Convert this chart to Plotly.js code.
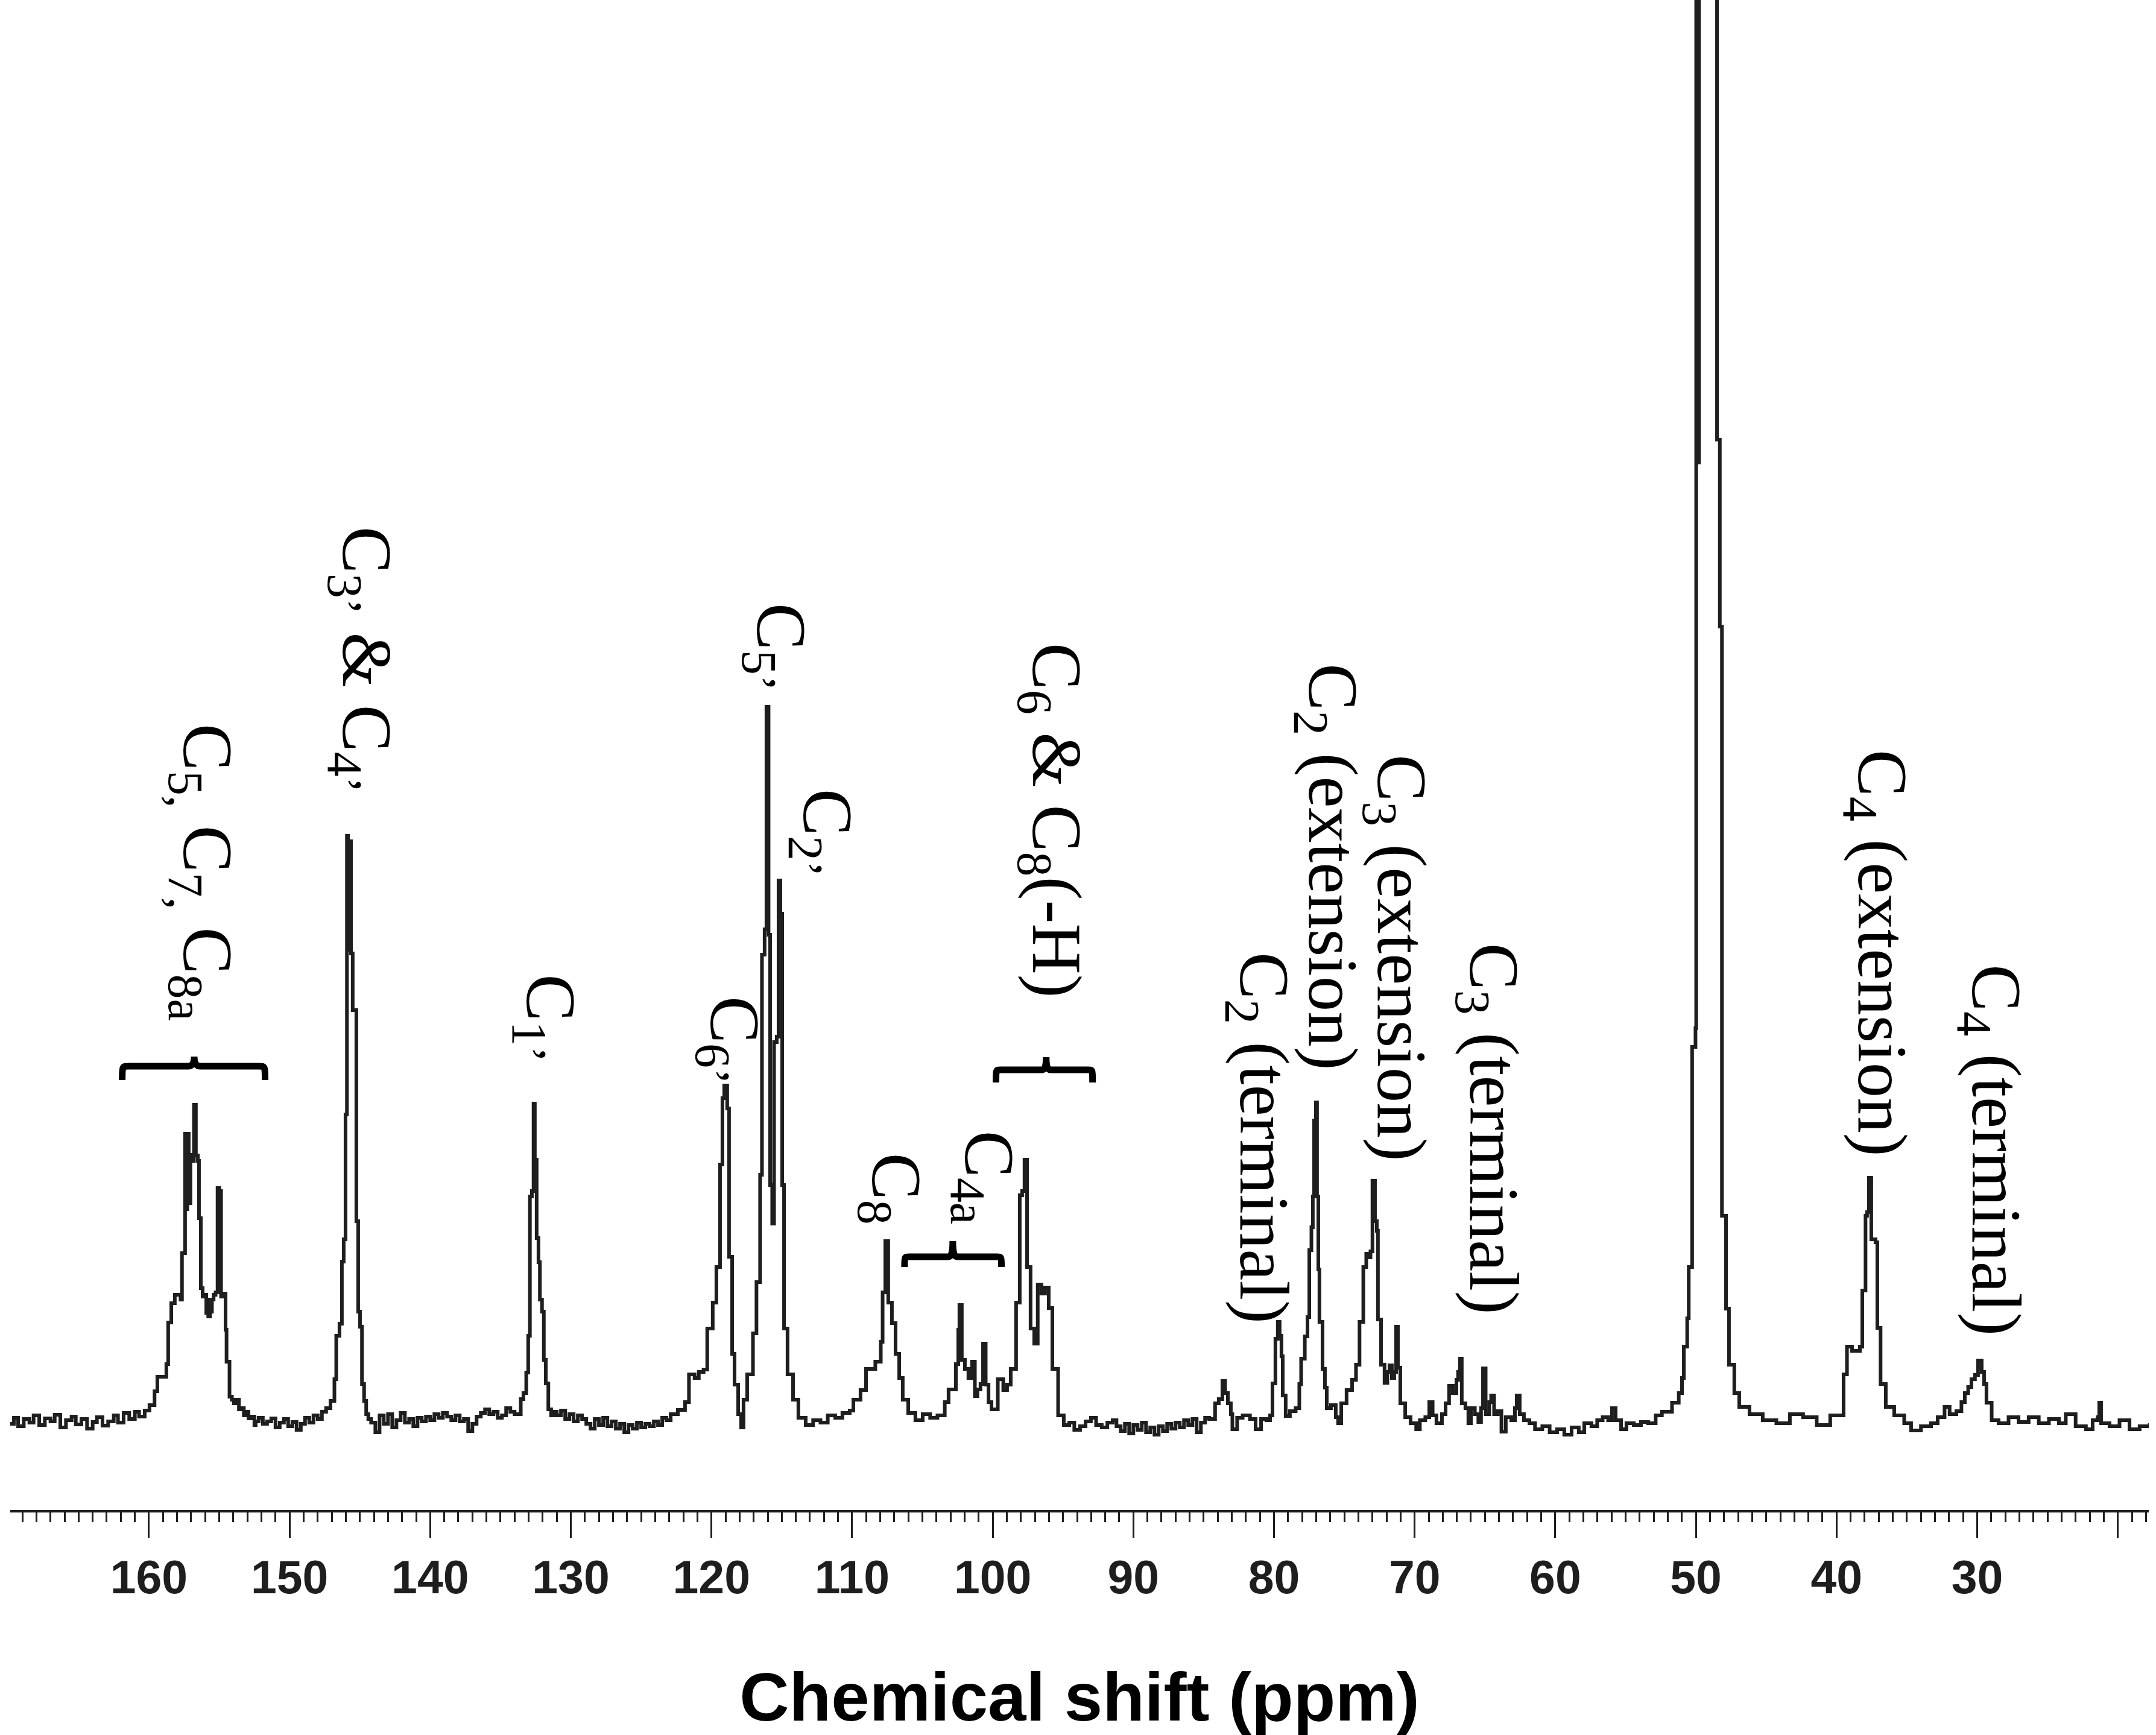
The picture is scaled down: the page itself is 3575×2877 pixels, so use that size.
<!DOCTYPE html>
<html>
<head>
<meta charset="utf-8">
<script src="https://cdn.plot.ly/plotly-3.0.1.min.js"></script>
<style>
html,body{margin:0;padding:0;background:#fff;}
#chart{width:3575px;height:2877px;}
</style>
</head>
<body>
<div id="chart"></div>
<script>
// 13C NMR spectrum: [chemical shift (ppm), intensity (arb.)]
const region_170_147 = [
[170.0,-6],[169.6,4],[169.3,-10],[168.9,2],[168.5,-4],[168.2,8],[167.8,-8],[167.4,3],[167.0,-2],[166.7,9],
[166.3,-12],[165.9,0],[165.5,6],[165.2,-7],[164.8,2],[164.4,-14],[164.0,-3],[163.7,5],[163.3,-9],[162.9,-2],
[162.5,8],[162.2,-4],[161.8,12],[161.4,2],[161.0,14],[160.7,6],[160.3,16],
[159.96,25],[159.60,48],[159.40,72],[159.01,72],[158.76,93],[158.63,162],[158.41,194],[158.16,208],[157.96,208],
[157.75,200],[157.65,277],[157.43,475],[157.36,350],[157.27,475],[157.17,360],[157.05,440],[156.90,430],[156.80,523],
[156.66,439],[156.52,430],[156.44,335],[156.31,219],[156.18,205],[156.05,208],[155.92,178],[155.85,200],[155.78,172],
[155.65,180],[155.52,200],[155.40,208],[155.26,212],[155.12,385],[155.00,380],[154.87,205],[154.68,210],[154.55,150],
[154.48,97],[154.27,39],[154.10,34],[153.96,28],[153.80,34],[153.60,18],[153.44,20],[153.25,8],[153.10,14],[152.92,3],
[152.70,6],[152.50,-8],[152.41,-2],[152.20,4],[151.90,-6],[151.60,-2],[151.30,3],[151.00,-12],[150.70,-4],[150.40,2],
[150.10,-10],[149.80,-3],[149.50,-16],[149.20,-6],[148.90,4],[148.60,-4],[148.30,8],[148.00,2],[147.70,14],[147.40,20]
];
const region_147_122 = [
[147.09,32],[146.81,68],[146.68,140],[146.45,160],[146.28,263],[146.15,300],[146.02,507],[145.92,969],[145.84,780],
[145.77,960],[145.63,774],[145.51,680],[145.38,680],[145.25,330],[145.12,180],[144.99,155],[144.85,60],[144.70,32],
[144.55,10],[144.40,2],
[144.20,-4],[143.90,-20],[143.60,8],[143.30,-6],[143.00,10],[142.70,-12],[142.40,0],[142.10,12],[141.80,-4],[141.50,2],
[141.20,-10],[140.90,4],[140.60,-2],[140.30,6],[140.00,0],[139.70,10],[139.40,4],[139.10,12],[138.80,6],[138.50,0],
[138.20,8],[137.90,-2],[137.60,2],[137.30,-18],[137.00,-6],[136.70,6],[136.40,12],[136.10,18],[135.80,10],[135.50,14],
[135.20,4],[134.90,8],[134.60,20],[134.30,14],[134.00,10],
[133.56,35],[133.37,45],[133.17,79],[133.03,140],[132.91,371],[132.77,380],[132.65,525],[132.56,432],[132.43,302],
[132.30,262],[132.20,200],[132.05,180],[131.92,100],[131.78,61],[131.60,18],[131.40,8],[131.20,14],
[131.00,8],[130.70,16],[130.40,2],[130.10,10],[129.80,-2],[129.50,8],[129.20,2],[128.90,-6],[128.60,-14],[128.30,2],
[128.00,-8],[127.70,4],[127.40,-10],[127.10,-2],[126.80,-14],[126.50,-6],[126.20,-20],[125.90,-8],[125.60,-14],
[125.30,-4],[125.00,-12],[124.70,-6],[124.40,-10],[124.10,-2],[123.80,-8],[123.50,4],[123.20,0],[122.90,10]
];
const region_122_91 = [
[122.39,17],[121.88,30],[121.60,76],[121.20,70],[120.90,80],[120.56,84],[120.30,152],[119.91,195],[119.65,254],
[119.39,424],[119.22,534],[119.09,555],[118.88,517],[118.75,271],[118.53,110],[118.36,59],[118.10,10],[117.89,-12],
[117.72,34],[117.46,76],[117.05,144],[116.80,229],[116.54,407],[116.41,772],[116.22,814],[116.09,1183],[115.94,805],
[115.83,390],[115.68,326],[115.55,627],[115.36,636],[115.23,895],[115.10,840],[114.97,390],[114.84,152],[114.59,76],
[114.20,34],[113.82,4],[113.30,-8],[112.77,0],[112.25,-4],[111.73,8],[111.20,4],[110.69,12],[110.17,16],[109.91,34],
[109.40,50],[109.01,85],[108.35,97],[107.96,130],[107.83,212],[107.64,297],[107.43,195],[107.17,161],[106.91,110],
[106.65,70],[106.40,34],[106.01,12],[105.50,0],[104.98,10],[104.45,4],[103.93,8],[103.41,30],[103.14,51],[102.62,93],
[102.45,150],[102.37,191],[102.20,100],[101.98,85],[101.73,70],[101.47,97],[101.27,40],[101.09,51],[100.87,60],
[100.69,127],[100.50,59],[100.30,30],[100.09,18],[99.64,68],[99.25,50],[98.98,59],[98.72,85],[98.34,195],[98.08,373],
[97.91,380],[97.74,432],[97.56,254],[97.31,152],[97.05,127],[96.80,225],[96.54,210],[96.28,220],[96.02,186],[95.76,85],
[95.35,8],[94.95,-8],[94.56,-4],[94.20,-16],[93.79,-10],[93.40,-2],[93.02,4],[92.65,-8],[92.25,-12],[91.85,-4],[91.47,0]
];
const region_91_53 = [
[91.20,-10],[90.90,-18],[90.60,-6],[90.30,-22],[90.00,-8],[89.70,-16],[89.40,-4],[89.10,-20],[88.80,-12],[88.50,-24],
[88.20,-10],[87.90,-18],[87.60,-6],[87.30,-14],[87.00,-4],[86.70,-12],[86.40,0],[86.10,-8],[85.80,2],[85.50,-20],
[85.20,-4],[84.90,4],[84.60,2],[84.19,28],[83.93,35],[83.67,65],[83.48,45],[83.28,28],[83.07,10],[82.96,-15],[82.62,4],
[82.23,8],[81.71,2],[81.31,-15],[80.92,2],[80.54,0],[80.28,8],[80.11,61],[79.90,135],[79.73,163],[79.60,140],[79.47,106],
[79.38,41],[79.17,7],[78.87,15],[78.46,20],[78.20,60],[78.07,102],[77.81,139],[77.62,171],[77.49,282],[77.34,320],
[77.24,371],[77.15,497],[77.02,527],[76.94,371],[76.85,250],[76.77,163],[76.55,85],[76.38,54],[76.25,20],[75.95,25],
[75.61,5],[75.44,-5],[75.22,28],[74.84,50],[74.45,67],[74.17,92],[73.92,163],[73.65,254],[73.44,276],[73.26,270],
[73.14,280],[73.00,397],[72.82,330],[72.69,314],[72.61,167],[72.39,92],[72.14,62],[71.94,80],[71.79,91],[71.62,70],
[71.45,80],[71.32,155],[71.19,87],[71.02,28],[70.67,5],[70.29,-5],[69.89,-15],[69.63,0],[69.24,5],[68.96,30],[68.72,8],
[68.45,-5],[68.06,10],[67.80,28],[67.55,57],[67.29,45],[67.03,67],[66.91,80],[66.78,102],[66.65,28],[66.39,20],[66.18,-5],
[66.00,20],[65.72,10],[65.47,-3],[65.28,20],[65.14,86],[64.95,10],[64.69,30],[64.56,41],[64.35,10],[64.09,15],[63.83,-19],
[63.52,5],[63.13,0],[62.87,20],[62.74,41],[62.53,10],[62.23,0],[61.84,-5],[61.44,-15],[60.92,-10],[60.40,-20],[59.87,-15],
[59.36,-24],[58.84,-12],[58.33,-20],[57.94,-5],[57.43,-10],[57.02,0],[56.63,5],[56.24,0],[55.97,20],[55.71,0],[55.32,-15],
[54.94,-5],[54.42,-8],[53.91,-3],[53.40,-5]
];
const region_53_17 = [
[52.86,8],[52.42,14],[51.70,29],[51.22,45],[50.99,70],[50.86,122],[50.62,169],[50.51,254],[50.27,619],[50.03,650],
[49.98,5000],[49.82,1588],[49.78,5000],[48.60,5000],[48.50,1626],[48.30,1316],[48.15,339],[47.86,185],[47.65,92],
[47.27,45],[46.92,22],[46.19,10],[45.25,0],[44.28,-5],[43.32,10],[42.38,5],[41.41,-8],[40.45,8],[39.50,76],[39.26,122],
[38.90,115],[38.34,122],[38.17,215],[37.94,339],[37.83,345],[37.70,402],[37.53,300],[37.23,295],[37.10,153],[36.87,60],
[36.50,22],[35.90,8],[35.19,-5],[34.70,-17],[34.00,-10],[33.28,-5],[32.81,5],[32.32,22],[31.96,10],[31.48,15],[31.12,30],
[30.88,45],[30.64,55],[30.41,68],[30.16,75],[29.94,99],[29.68,80],[29.51,60],[29.34,29],[28.97,0],[28.48,-5],[27.77,5],
[27.06,-3],[26.34,5],[25.62,-5],[24.90,2],[24.19,-5],[23.70,10],[23.00,-10],[22.27,-15],[21.79,0],[21.43,5],[21.32,29],
[21.19,-5],[20.59,-10],[19.88,0],[19.17,-15],[18.45,-10],[17.73,-5]
];

// Axis ticks
const tickValues = [160,150,140,130,120,110,100,90,80,70,60,50,40,30,20];
const tickLabels = ['160','150','140','130','120','110','100','90','80','70','60','50','40','30',''];

// Peak assignments: text, shift (ppm), intensity level of label centre
const labelTexts = [
 'C<sub>5,</sub> C<sub>7,</sub> C<sub>8a</sub>',
 'C<sub>3’</sub> &amp; C<sub>4’</sub>',
 'C<sub>1’</sub>',
 'C<sub>6’</sub>',
 'C<sub>5’</sub>',
 'C<sub>2’</sub>',
 'C<sub>8</sub>',
 'C<sub>4a</sub>',
 'C<sub>6</sub> &amp; C<sub>8</sub>(-H)',
 'C<sub>2</sub> (terminal)',
 'C<sub>2</sub> (extension)',
 'C<sub>3</sub> (extension)',
 'C<sub>3</sub> (terminal)',
 'C<sub>4</sub> (extension)',
 'C<sub>4</sub> (terminal)'
];
const labelShifts = [156.18,144.86,131.76,118.7,115.40,112.1,107.2,100.6,95.8,81.05,76.17,71.28,64.7,37.1,29.0];
const labelLevels = [909,1261,666,630,1282,974,384,403,995,468,917,766,483,774,448];

// Braces: [left ppm, centre ppm, right ppm, end level, bar level, tip level]
const braceGroups = [
 [161.90,156.78,151.74,564,587,603],
 [106.27,102.84,99.38,254,271,297],
 [99.77,96.20,92.90,560,581,602]
];

const spectrum = [].concat(region_170_147, region_147_122, region_122_91, region_91_53, region_53_17);
const shift = spectrum.map(p => p[0]);
const intensity = spectrum.map(p => p[1]);

const ink = '#1e1e1e';

const trace = {
  x: shift, y: intensity, type: 'scatter', mode: 'lines',
  line: {color: ink, width: 6, shape: 'hv'},
  hoverinfo: 'skip', showlegend: false
};

const annotations = labelTexts.map((t, i) => ({
  text: t, x: labelShifts[i], y: labelLevels[i], xref: 'x', yref: 'y',
  showarrow: false, textangle: 90, xanchor: 'center', yanchor: 'middle',
  font: {family: 'Liberation Serif, Times New Roman, serif', size: 117, color: '#000'}
}));

function bracePath(g) {
  const [l, c, r, e, b, t] = g;
  const w = (l - r);
  const k = w * 0.045;
  return `M ${l},${e} C ${l},${b} ${l},${b} ${l - k},${b} L ${c + k},${b} C ${c + k*0.3},${b} ${c},${b + (t-b)*0.3} ${c},${t}` +
         ` C ${c},${b + (t-b)*0.3} ${c - k*0.3},${b} ${c - k},${b} L ${r + k},${b} C ${r},${b} ${r},${b} ${r},${e}`;
}
const shapes = braceGroups.map(g => ({
  type: 'path', xref: 'x', yref: 'y', path: bracePath(g),
  line: {color: '#000', width: 11}
}));

const layout = {
  width: 3575, height: 2877,
  margin: {l: 17, r: 12, t: 0, b: 373, pad: 0},
  paper_bgcolor: '#fff', plot_bgcolor: '#fff',
  showlegend: false,
  xaxis: {
    range: [169.86, 17.8], autorange: false,
    showline: true, linecolor: ink, linewidth: 4,
    showgrid: false, zeroline: false,
    ticks: 'outside', ticklen: 42, tickwidth: 3, tickcolor: ink,
    tickmode: 'array', tickvals: tickValues, ticktext: tickLabels,
    tickfont: {family: 'Liberation Sans, Arial, sans-serif', size: 77, color: ink, weight: 'bold'},
    minor: {dtick: 1, ticks: 'outside', ticklen: 16, tickwidth: 3, tickcolor: ink, showgrid: false},
    title: {text: 'Chemical shift (ppm)', standoff: 152,
            font: {family: 'Liberation Sans, Arial, sans-serif', size: 114, color: '#000', weight: 'bold'}}
  },
  yaxis: {range: [-149, 2355], autorange: false, visible: false, showgrid: false, zeroline: false},
  annotations: annotations,
  shapes: shapes
};

Plotly.newPlot('chart', [trace], layout, {displayModeBar: false, staticPlot: true});
</script>
</body>
</html>
